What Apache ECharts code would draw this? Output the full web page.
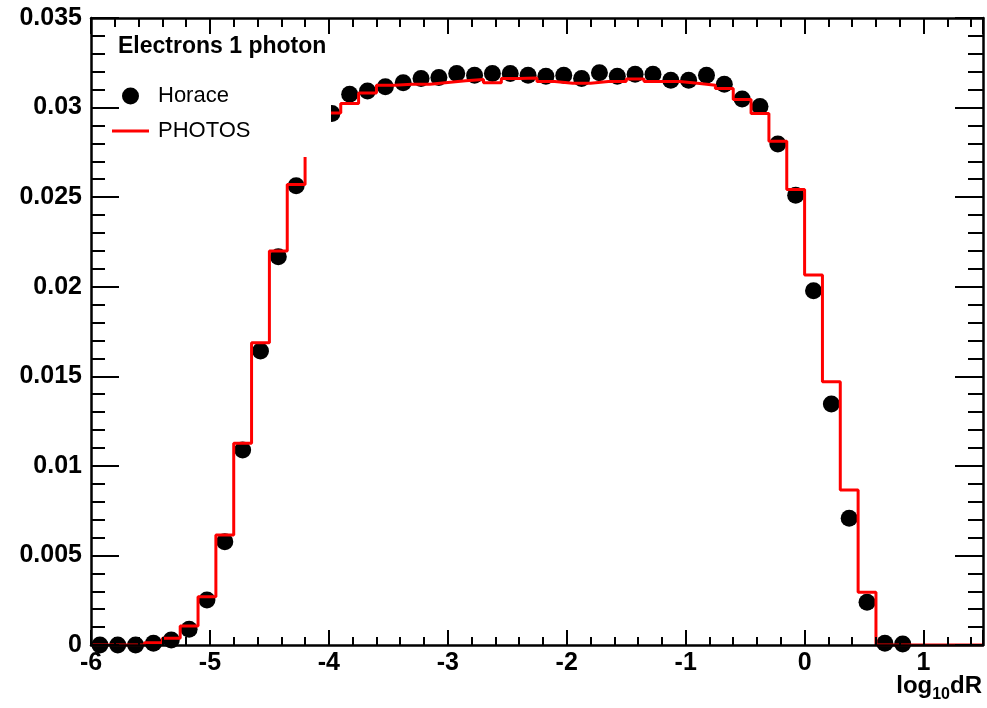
<!DOCTYPE html>
<html>
<head>
<meta charset="utf-8">
<script src="https://cdn.jsdelivr.net/npm/echarts@6/dist/echarts.min.js"></script>
<style>
  html, body { margin: 0; padding: 0; background: #fff; }
  #chart { width: 987px; height: 708px; }
</style>
</head>
<body>
<div id="chart"></div>
<script>
// histogram binning: 50 bins of 0.15 from -6 to 1.5
const xMin = -6
const xMax = 1.5
const binWidth = 0.15

// PHOTOS histogram content per bin
const photosValues = [
  0, 0, 0, 0.00013, 0.00037, 0.00106, 0.0027, 0.00614, 0.01126, 0.01687,
  0.0220, 0.02571, 0.0283, 0.0297, 0.03023, 0.03082, 0.03125, 0.0313, 0.0313, 0.0314,
  0.0315, 0.03157, 0.03138, 0.03162, 0.03165, 0.03145, 0.03136, 0.03136, 0.03146, 0.03146,
  0.0316, 0.03146, 0.03146, 0.03136, 0.03125, 0.03107, 0.03045, 0.02967, 0.02812, 0.02543,
  0.02065, 0.01469, 0.00865, 0.00294, 0, 0, 0, 0, 0, 0
]

// Horace points per bin (null = not drawn)
const horaceValues = [
  0, 0, 0, 0.0001, 0.00028, 0.00088, 0.00251, 0.00577, 0.01088, 0.01641,
  0.02167, 0.02563, 0.0285, 0.02967, 0.03075, 0.03093, 0.03116, 0.03138, 0.03162, 0.03168,
  0.0319, 0.03181, 0.0319, 0.0319, 0.03181, 0.03175, 0.03181, 0.03162, 0.03194, 0.03175,
  0.03186, 0.03186, 0.03153, 0.03153, 0.03181, 0.0313, 0.03048, 0.03006, 0.02797, 0.02511,
  0.01977, 0.01345, 0.00707, 0.00238, 0.0001, 0.00005, null, null, null, null
]

const xTicks = { min: xMin, max: xMax, interval: 1 }
const yTicks = { min: 0, max: 0.035, interval: 0.005 }

const chart = echarts.init(document.getElementById('chart'))

// step outline: one point per bin lower edge + closing point at xMax
const photosData = photosValues.map((v, i) => [xMin + i * binWidth, v])
photosData.push([xMax, photosValues[photosValues.length - 1]])

const horaceData = []
horaceValues.forEach((v, i) => {
  if (v !== null) horaceData.push([xMin + (i + 0.5) * binWidth, v])
})

const font = 'Liberation Sans, Helvetica, Arial, sans-serif'
const black = '#000'

const frameAxis = (extra) => Object.assign({
  type: 'value',
  z: 10,
  splitLine: { show: false },
  axisLine: { show: true, onZero: false, lineStyle: { color: black, width: 2.5 } },
  axisTick: { show: true, inside: true, lineStyle: { color: black, width: 2 } },
  minorTick: { show: true, splitNumber: 5, lineStyle: { color: black, width: 2 } },
}, extra)

const option = {
  animation: false,
  backgroundColor: '#fff',
  title: [
    {
      text: 'Electrons 1 photon',
      left: 118,
      top: 35,
      padding: 0,
      z: 12,
      textStyle: { fontFamily: font, fontWeight: 'bold', fontSize: 23, color: black },
    },
    {
      // x axis title, ROOT style at the lower right
      text: '{a|log}{b|10}{a|dR}',
      right: 5,
      top: 674,
      padding: 0,
      textStyle: {
        rich: {
          a: { fontFamily: font, fontWeight: 'bold', fontSize: 24, color: black, lineHeight: 24, verticalAlign: 'top' },
          b: { fontFamily: font, fontWeight: 'bold', fontSize: 16, color: black, lineHeight: 16, verticalAlign: 'top', padding: [13, 0, 0, 0] },
        },
      },
    },
  ],
  legend: [
    {
      data: [{ name: 'Horace', icon: 'circle' }],
      left: 122,
      top: 85,
      padding: 0,
      z: 12,
      itemWidth: 17,
      itemHeight: 17,
      textStyle: { fontFamily: font, fontSize: 22, color: black, padding: [0, 0, 0, 14] },
    },
    {
      data: [{ name: 'PHOTOS', icon: 'rect' }],
      left: 112,
      top: 120,
      padding: 0,
      z: 12,
      itemWidth: 37,
      itemHeight: 3,
      textStyle: { fontFamily: font, fontSize: 22, color: black, padding: [0, 0, 0, 4] },
    },
  ],
  // white legend box of the original, which hides part of the rising edge
  graphic: [
    {
      type: 'rect',
      z: 5,
      shape: { x: 93, y: 20, width: 238, height: 137 },
      style: { fill: '#fff' },
    },
  ],
  grid: { left: 91, right: 4, top: 18, bottom: 63, outerBoundsMode: 'none' },
  xAxis: [
    frameAxis({
      position: 'bottom',
      ...xTicks,
      axisTick: { show: true, inside: true, length: 15, lineStyle: { color: black, width: 2 } },
      minorTick: { show: true, splitNumber: 5, length: 8, lineStyle: { color: black, width: 2 } },
      axisLabel: {
        margin: 6,
        fontFamily: font,
        fontWeight: 'bold',
        fontSize: 25,
        color: black,
        showMaxLabel: false,
      },
    }),
    frameAxis({
      position: 'top',
      ...xTicks,
      axisLabel: { show: false },
      axisTick: { show: true, inside: true, length: 16, lineStyle: { color: black, width: 2 } },
      minorTick: { show: true, splitNumber: 5, length: 9, lineStyle: { color: black, width: 2 } },
    }),
  ],
  yAxis: [
    frameAxis({
      position: 'left',
      ...yTicks,
      axisTick: { show: true, inside: true, length: 28, lineStyle: { color: black, width: 2 } },
      minorTick: { show: true, splitNumber: 5, length: 14, lineStyle: { color: black, width: 2 } },
      axisLabel: {
        margin: 9,
        fontFamily: font,
        fontWeight: 'bold',
        fontSize: 25,
        color: black,
      },
    }),
    frameAxis({
      position: 'right',
      ...yTicks,
      axisLabel: { show: false },
      axisTick: { show: true, inside: true, length: 28, lineStyle: { color: black, width: 2 } },
      minorTick: { show: true, splitNumber: 5, length: 15, lineStyle: { color: black, width: 2 } },
    }),
  ],
  series: [
    {
      name: 'PHOTOS',
      type: 'line',
      step: 'end',
      xAxisIndex: 0,
      yAxisIndex: 0,
      showSymbol: false,
      symbol: 'none',
      lineStyle: { color: '#ff0000', width: 3 },
      itemStyle: { color: '#ff0000' },
      data: photosData,
    },
    {
      name: 'Horace',
      type: 'scatter',
      xAxisIndex: 0,
      yAxisIndex: 0,
      symbol: 'circle',
      symbolSize: 17,
      itemStyle: { color: black, opacity: 1 },
      data: horaceData,
    },
  ],
}

chart.setOption(option)
</script>
</body>
</html>
